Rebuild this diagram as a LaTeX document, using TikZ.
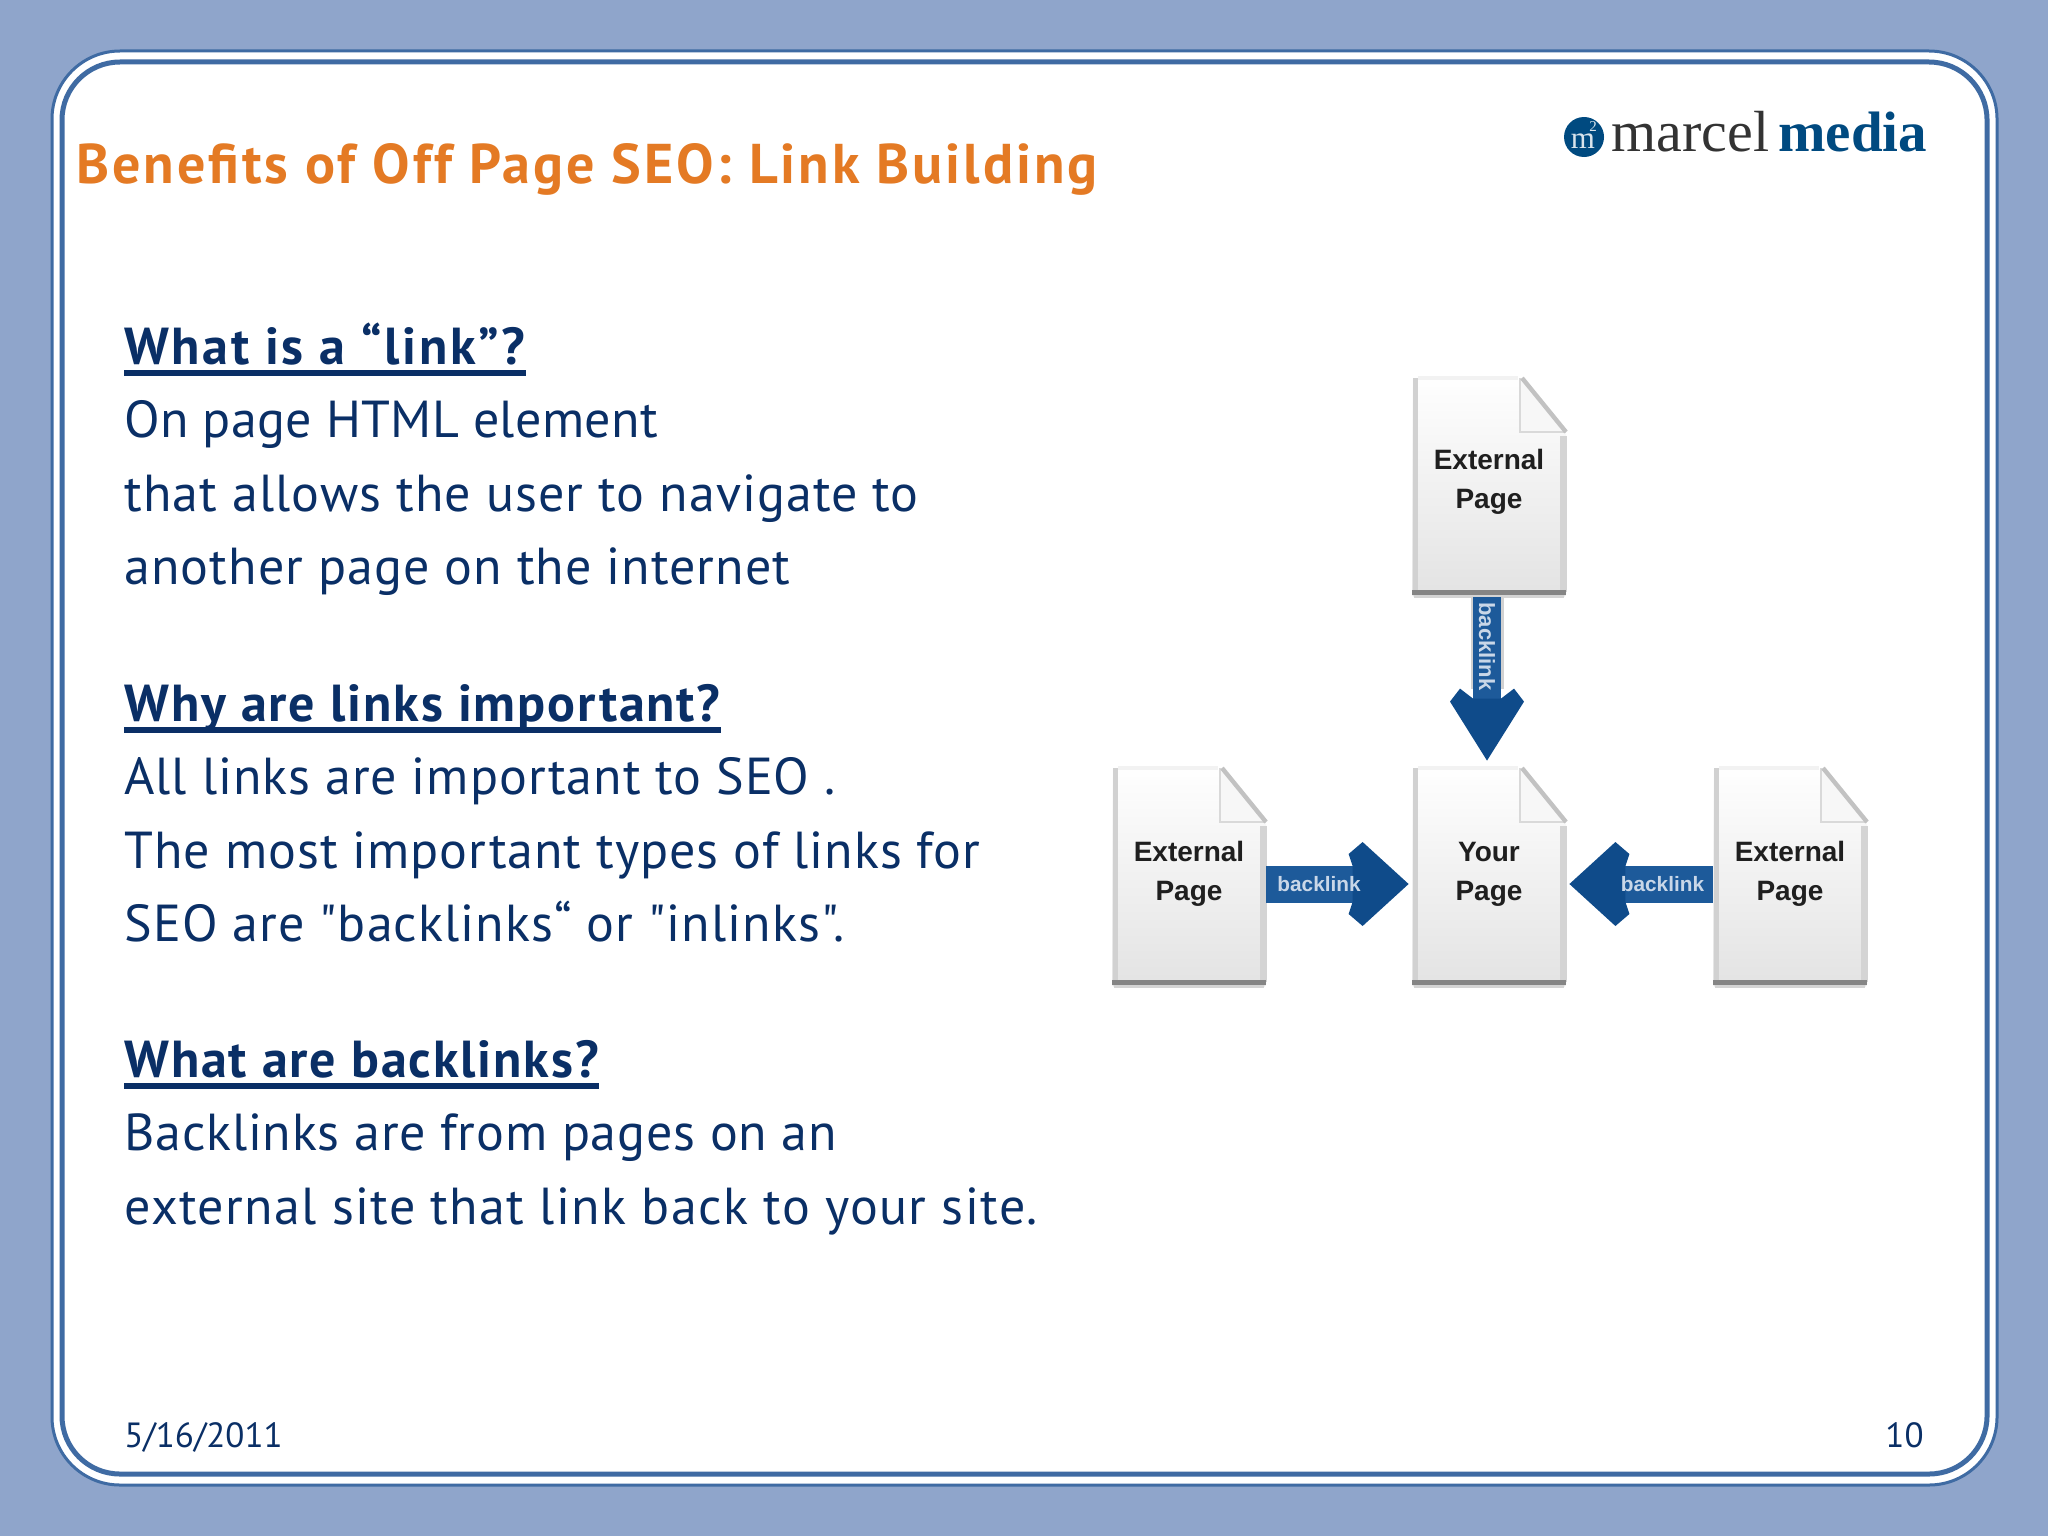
\documentclass[tikz,border=0pt]{standalone}
\usepackage{fontspec}
\setmainfont{PT Sans}[Ligatures=TeXOff]
\newfontfamily\logofont{Liberation Serif}
\newfontfamily\docfont{Liberation Sans}
\usetikzlibrary{arrows.meta,calc}
\definecolor{bgblue}{HTML}{8FA5CB}
\definecolor{framec}{HTML}{3F6BA3}
\definecolor{titlec}{HTML}{E47A24}
\definecolor{bodyc}{HTML}{0A2F66}
\definecolor{arrowc}{HTML}{0F4B8A}
\definecolor{shaftc}{HTML}{1D5A9A}
\definecolor{labelc}{HTML}{C9D7E8}
\definecolor{logoblue}{HTML}{004A80}
\newcommand{\spaced}[2]{{\addfontfeature{LetterSpace=#1}#2}}
\pgfdeclarearrow{
  name=HeadDown,
  setup code={\pgfarrowssettipend{0pt}\pgfarrowssetbackend{-36pt}\pgfarrowssetlineend{-30pt}\pgfarrowssetvisualbackend{-30pt}},
  drawing code={
    \pgfsetcornersarced{\pgfpoint{1.5pt}{1.5pt}}
    \pgfpathmoveto{\pgfpoint{0pt}{0pt}}
    \pgfpathlineto{\pgfpoint{-29.5pt}{18.5pt}}
    \pgfpathlineto{\pgfpoint{-36pt}{13.5pt}}
    \pgfpathlineto{\pgfpoint{-31pt}{7pt}}
    \pgfpathlineto{\pgfpoint{-31pt}{-7pt}}
    \pgfpathlineto{\pgfpoint{-36pt}{-13.5pt}}
    \pgfpathlineto{\pgfpoint{-29.5pt}{-18.5pt}}
    \pgfpathclose
    \pgfusepathqfill
  }
}
\pgfdeclarearrow{
  name=HeadSide,
  setup code={\pgfarrowssettipend{0pt}\pgfarrowssetbackend{-30pt}\pgfarrowssetlineend{-27pt}\pgfarrowssetvisualbackend{-27pt}},
  drawing code={
    \pgfsetcornersarced{\pgfpoint{1.5pt}{1.5pt}}
    \pgfpathmoveto{\pgfpoint{0pt}{0pt}}
    \pgfpathlineto{\pgfpoint{-23pt}{21pt}}
    \pgfpathlineto{\pgfpoint{-30pt}{15pt}}
    \pgfpathlineto{\pgfpoint{-28pt}{9pt}}
    \pgfpathlineto{\pgfpoint{-28pt}{-9pt}}
    \pgfpathlineto{\pgfpoint{-30pt}{-15pt}}
    \pgfpathlineto{\pgfpoint{-23pt}{-21pt}}
    \pgfpathclose
    \pgfusepathqfill
  }
}
\tikzset{
  titletext/.style={anchor=base west,inner sep=0pt,text=titlec,font=\fontsize{28}{28}\selectfont\bfseries\addfontfeature{LetterSpace=5.2}},
  headtext/.style={anchor=base west,inner sep=0pt,text=bodyc,font=\fontsize{26}{26}\selectfont\bfseries},
  bodytext/.style={anchor=base west,inner sep=0pt,text=bodyc,font=\fontsize{26}{26}\selectfont},
  foottext/.style={inner sep=0pt,text=bodyc,font=\fontsize{17.5}{17.5}\selectfont},
  pagebox/.style={inner sep=0pt,minimum width=77pt,minimum height=111pt},
  pagetext/.style={inner sep=0pt,align=center,text=black!88,font=\docfont\bfseries\fontsize{14}{19.5}\selectfont},
  arrowdown/.style={line width=14pt,shaftc,-{HeadDown[color=arrowc]},preaction={draw=black!18,line width=16.5pt,-,shorten >=36pt}},
  arrowside/.style={line width=18.5pt,shaftc,-{HeadSide[color=arrowc]},preaction={draw=black!35,-,shorten >=28pt,transform canvas={yshift=-1pt}}},
  linklabel/.style={inner sep=0pt,text=labelc,font=\docfont\bfseries\fontsize{10.4}{10.4}\selectfont},
  linklabeldown/.style={inner sep=0pt,text=labelc,rotate=-90,font=\docfont\bfseries\fontsize{11}{11}\selectfont},
  heading rule/.style={line width=2.6pt,bodyc}
}
\newcommand{\docpage}[3]{%
  \begin{scope}[shift={(#2,#3)}]
    \shade[top color=white,middle color=black!3,bottom color=black!11,rounded corners=1.5pt] (-77,-111) -- (31,-111) -- (77,-54) -- (77,111) -- (-77,111) -- cycle;
    \draw[black!5,line width=2pt] (-71,-108) -- (29,-108);
    \draw[black!18,line width=2.5pt] (-74,-108) -- (-74,106);
    \draw[black!17,line width=3.5pt] (74,-50) -- (74,106);
    \fill[black!3] (31,-108) -- (31,-54) -- (77,-54) -- cycle;
    \draw[black!15,line width=1pt] (31,-108) -- (31,-54) -- (77,-54);
    \draw[black!24,line width=2.2pt] (33,-108) -- (77,-54);
    \draw[black!48,line width=2.5pt] (-77,106) -- (77,106);
    \draw[black!17,line width=1.5pt] (-75,110) -- (75,110);
    \node[pagebox] (#1) at (0,0) {};
  \end{scope}}
\begin{document}
\begin{tikzpicture}[x=0.5pt,y=-0.5pt]
\useasboundingbox (0,0) rectangle (2048,1536);
\fill[bgblue] (0,0) rectangle (2048,1536);
% frame
\draw[framec,fill=white,line width=1.5pt,rounded corners=34pt] (52,51) rectangle (1997,1485);
\draw[framec,fill=white,line width=2.5pt,rounded corners=29pt] (62,62) rectangle (1987,1474);
% logo
\node[circle,fill=logoblue,minimum size=20pt,inner sep=0pt] (logoball) at (1584,137) {};
\node[inner sep=0pt,text=white!85!logoblue,font=\logofont\fontsize{15.5}{15.5}\selectfont] (logom) at (1583,141) {m};
\node[inner sep=0pt,text=white!85!logoblue,font=\logofont\fontsize{7.5}{7.5}\selectfont] (logotwo) at (1593,127) {2};
\node[anchor=base west,inner sep=0pt,text=black!80,font=\logofont\fontsize{29}{29}\selectfont] (logoa) at (1611,151) {marcel};
\node[anchor=base west,inner sep=0pt,text=logoblue,font=\logofont\bfseries\fontsize{28.5}{28.5}\selectfont] (logob) at (1778,151) {media};
% title
\node[titletext] (title) at (76,183) {Benefits of Off Page SEO: Link Building};
% text
\node[headtext] (h1) at (124,364) {\spaced{5.1}{What is a “link”?}};
\draw[heading rule] ($(h1.base west)+(0,9)$) -- ($(h1.base east)+(0,9)$);
\node[bodytext] (l1) at (124,437) {\spaced{0.6}{On page HTML element}};
\node[bodytext] (l2) at (124,511) {\spaced{2.15}{that allows the user to navigate to}};
\node[bodytext] (l3) at (124,584) {\spaced{2.1}{another page on the internet}};
\node[headtext] (h2) at (124,721) {\spaced{3.6}{Why are links important?}};
\draw[heading rule] ($(h2.base west)+(0,9)$) -- ($(h2.base east)+(0,9)$);
\node[bodytext] (l4) at (124,794) {\spaced{1.9}{All links are important to SEO .}};
\node[bodytext] (l5) at (124,868) {\spaced{1.95}{The most important types of links for}};
\node[bodytext] (l6) at (124,941) {\spaced{2.05}{SEO are "backlinks“ or "inlinks".}};
\node[headtext] (h3) at (124,1077) {\spaced{3.6}{What are backlinks?}};
\draw[heading rule] ($(h3.base west)+(0,9)$) -- ($(h3.base east)+(0,9)$);
\node[bodytext] (l7) at (124,1150) {\spaced{1.55}{Backlinks are from pages on an}};
\node[bodytext] (l8) at (124,1224) {\spaced{2.7}{external site that link back to your site.}};
\node[foottext,anchor=base west] (date) at (124,1447) {5/16/2011};
\node[foottext,anchor=base east] (num) at (1924,1447) {10};
% pages
\docpage{ext1}{1489}{486}
\docpage{your}{1489}{876}
\docpage{ext2}{1189}{876}
\docpage{ext3}{1790}{876}
\node[pagetext] (t1) at (1489,482) {External\\Page};
\node[pagetext] (t2) at (1489,874) {Your\\Page};
\node[pagetext] (t3) at (1189,874) {External\\Page};
\node[pagetext] (t4) at (1790,874) {External\\Page};
% arrows
\draw[arrowdown] ([xshift=-1pt]ext1.south) -- node[pos=0.3,linklabeldown] {backlink} ([xshift=-1pt,yshift=2pt]your.north);
\draw[arrowside] ([yshift=-4pt]ext2.east) -- node[pos=0.37,linklabel] {backlink} ([yshift=-4pt,xshift=-1.5pt]your.west);
\draw[arrowside] ([yshift=-4pt]ext3.west) -- node[pos=0.35,linklabel] {backlink} ([yshift=-4pt,xshift=1.5pt]your.east);
\end{tikzpicture}
\end{document}
